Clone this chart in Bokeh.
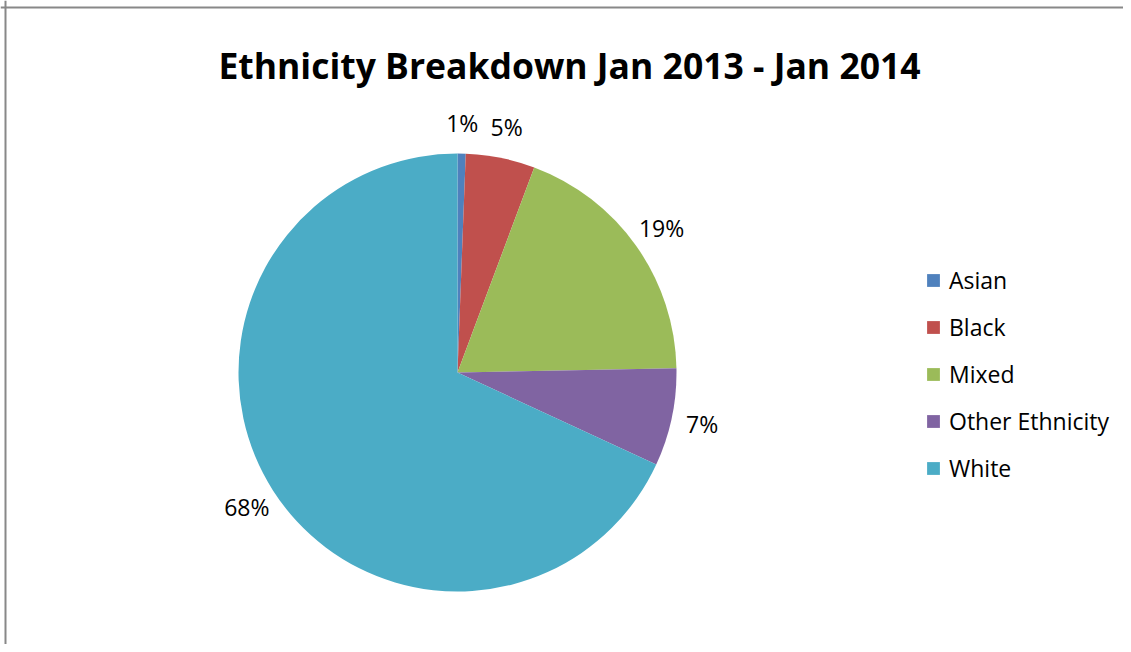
import math
from bokeh.plotting import figure
from bokeh.models import ColumnDataSource, Range1d, Legend, LegendItem, Label, Span
from bokeh.core.properties import value
from bokeh.embed import file_html
from bokeh.resources import INLINE

# ---- data ----
categories = ["Asian", "Black", "Mixed", "Other Ethnicity", "White"]
shares = [0.6, 5.1, 19.0, 7.2, 68.1]
colors = ["#4F81BD", "#C0504D", "#9BBB59", "#8064A2", "#4BACC6"]
title_text = "Ethnicity Breakdown Jan 2013 - Jan 2014"

W, H = 1123, 644
CX, CY, R = 457, H - 372, 219
LABEL_R = 250

total = sum(shares)
starts, ends, lx, ly, labels = [], [], [], [], []
cum = 0.0
for s in shares:
    a0 = math.pi / 2 - 2 * math.pi * (cum + s) / total
    a1 = math.pi / 2 - 2 * math.pi * cum / total
    starts.append(a0)
    ends.append(a1)
    mid = (a0 + a1) / 2
    lx.append(CX + LABEL_R * math.cos(mid))
    ly.append(CY + LABEL_R * math.sin(mid))
    labels.append(f"{round(s / total * 100)}%")
    cum += s

src = ColumnDataSource(dict(category=categories, start=starts, end=ends,
                            color=colors, lx=lx, ly=ly, label=labels))

p = figure(width=W, height=H, output_backend="svg", toolbar_location=None,
           x_range=Range1d(0, W), y_range=Range1d(0, H), min_border=0,
           background_fill_color="white", border_fill_color="white")
p.axis.visible = False
p.xgrid.visible = False
p.ygrid.visible = False
p.outline_line_color = None

r = p.wedge(x=CX, y=CY, radius=R, start_angle="start", end_angle="end",
            direction="anticlock", fill_color="color", line_color=None, source=src)

p.text(x="lx", y="ly", text="label", source=src, text_align="center",
       text_baseline="middle", text_font=value("Open Sans"),
       text_font_size="23px", text_color="black")

p.add_layout(Label(x=569, y=H - 64, text=title_text, text_align="center",
                   text_baseline="alphabetic", text_font="Open Sans",
                   text_font_style="bold", text_font_size="35.5px",
                   text_color="black"))

items = [LegendItem(label=c, renderers=[r], index=i) for i, c in enumerate(categories)]
legend = Legend(items=items, location=(925, 160), orientation="vertical",
                glyph_width=16, glyph_height=16, label_height=24, spacing=15,
                label_standoff=8, padding=0, margin=0, border_line_color=None,
                background_fill_alpha=0, label_text_font="Open Sans",
                label_text_font_size="23px", label_text_color="black")
p.add_layout(legend)

p.add_layout(Span(location=5, dimension="height", line_color="#888888", line_width=2))
p.add_layout(Span(location=H - 7, dimension="width", line_color="#888888", line_width=2))

open("out.html", "w").write(file_html(p, INLINE))
